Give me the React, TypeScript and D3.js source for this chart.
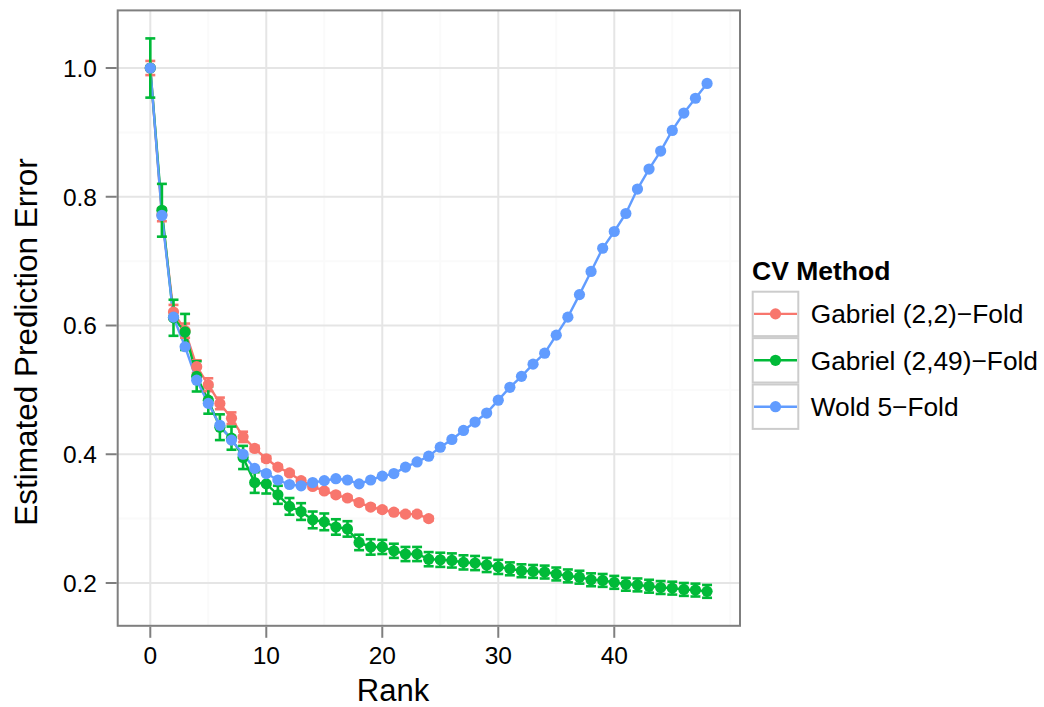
import React from 'react';
import * as d3 from 'd3';

// estimated prediction error by rank
const GABRIEL_22 = [
  1.0, 0.772, 0.621, 0.592, 0.536, 0.508, 0.479, 0.456, 0.427, 0.409,
  0.393, 0.38, 0.371, 0.359, 0.35, 0.343, 0.337, 0.332, 0.325, 0.318,
  0.314, 0.31, 0.307, 0.307, 0.3,
];
const GABRIEL_22_SE = [
  0.011, 0.01, 0.011, 0.011, 0.01, 0.01, 0.009, 0.009, 0.008, 0.004,
  0.004, 0.003, 0.003, 0.003, 0.003, 0.003, 0.003, 0.003, 0.003, 0.003,
  0.003, 0.003, 0.003, 0.003, 0.003,
];
const GABRIEL_249 = [
  1.0, 0.779, 0.612, 0.59, 0.521, 0.484, 0.442, 0.425, 0.395, 0.356,
  0.354, 0.337, 0.319, 0.311, 0.298, 0.295, 0.287, 0.284, 0.263, 0.256,
  0.256, 0.25, 0.245, 0.245, 0.237, 0.236, 0.235, 0.232, 0.231, 0.228,
  0.225, 0.222, 0.219, 0.218, 0.217, 0.214, 0.211, 0.209, 0.205, 0.204,
  0.201, 0.198, 0.197, 0.195, 0.193, 0.192, 0.19, 0.189, 0.187,
];
const GABRIEL_249_SE = [
  0.046, 0.041, 0.028, 0.028, 0.0235, 0.021, 0.02, 0.018, 0.018, 0.016,
  0.015, 0.014, 0.013, 0.013, 0.013, 0.013, 0.012, 0.012, 0.012, 0.012,
  0.011, 0.011, 0.011, 0.011, 0.011, 0.011, 0.011, 0.011, 0.011, 0.011,
  0.011, 0.01, 0.01, 0.01, 0.01, 0.01, 0.01, 0.01, 0.01, 0.01,
  0.01, 0.01, 0.01, 0.01, 0.01, 0.01, 0.01, 0.01, 0.01,
];
const WOLD_5 = [
  1.0, 0.771, 0.613, 0.567, 0.515, 0.479, 0.445, 0.422, 0.4, 0.378,
  0.37, 0.36, 0.353, 0.351, 0.356, 0.359, 0.362, 0.36, 0.354, 0.36,
  0.366, 0.37, 0.38, 0.388, 0.397, 0.411, 0.423, 0.437, 0.45, 0.464,
  0.484, 0.504, 0.521, 0.54, 0.557, 0.585, 0.613, 0.648, 0.684, 0.72,
  0.746, 0.774, 0.812, 0.843, 0.871, 0.903, 0.93, 0.953, 0.976,
];

const METHODS = ['Gabriel (2,2)\u2212Fold', 'Gabriel (2,49)\u2212Fold', 'Wold 5\u2212Fold'];
const COLORS = ['#F8766D', '#00BA38', '#619CFF'];
const X_TICKS = [0, 10, 20, 30, 40];
const X_MINOR = [5, 15, 25, 35, 45, 50];
const Y_TICKS = [0.2, 0.4, 0.6, 0.8, 1.0];
const Y_MINOR = [0.3, 0.5, 0.7, 0.9];

const W = 1044;
const H = 707;
const P = { left: 117.7, right: 740, top: 10.4, bottom: 625.8 };
const FONT = '"Liberation Sans", Arial, Helvetica, sans-serif';

type Pt = { rank: number; value: number; se?: number };

export default function App() {
  const x = d3.scaleLinear().domain([-2.81, 50.84]).range([P.left, P.right]);
  const y = d3.scaleLinear().domain([0.1335, 1.0895]).range([P.bottom, P.top]);

  const series: { name: string; color: string; pts: Pt[] }[] = [
    { name: METHODS[0], color: COLORS[0], pts: GABRIEL_22.map((v, i) => ({ rank: i, value: v, se: GABRIEL_22_SE[i] })) },
    { name: METHODS[1], color: COLORS[1], pts: GABRIEL_249.map((v, i) => ({ rank: i, value: v, se: GABRIEL_249_SE[i] })) },
    { name: METHODS[2], color: COLORS[2], pts: WOLD_5.map((v, i) => ({ rank: i, value: v })) },
  ];

  const line = d3.line<Pt>().x(d => x(d.rank)).y(d => y(d.value));
  const capHalf = x(0.43) - x(0);

  return (
    <div style={{ position: 'absolute', left: 0, top: 0 }}>
      <svg width={W} height={H} style={{ display: 'block', background: '#fff' }} fontFamily={FONT}>
        {/* panel grid */}
        <rect x={P.left} y={P.top} width={P.right - P.left} height={P.bottom - P.top} fill="#fff" />
        {X_MINOR.map(t => (
          <line key={'xm' + t} x1={x(t)} x2={x(t)} y1={P.top} y2={P.bottom} stroke="#FAFAFA" strokeWidth={2} />
        ))}
        {Y_MINOR.map(t => (
          <line key={'ym' + t} x1={P.left} x2={P.right} y1={y(t)} y2={y(t)} stroke="#FAFAFA" strokeWidth={2} />
        ))}
        {X_TICKS.map(t => (
          <line key={'xg' + t} x1={x(t)} x2={x(t)} y1={P.top} y2={P.bottom} stroke="#E5E5E5" strokeWidth={2} />
        ))}
        {Y_TICKS.map(t => (
          <line key={'yg' + t} x1={P.left} x2={P.right} y1={y(t)} y2={y(t)} stroke="#E5E5E5" strokeWidth={2} />
        ))}

        {/* lines */}
        {series.map(s => (
          <path key={'l' + s.name} d={line(s.pts) ?? ''} fill="none" stroke={s.color} strokeWidth={2.4} />
        ))}

        {/* error bars */}
        {series.map(s =>
          s.pts.filter(p => p.se !== undefined).map(p => {
            const cx = x(p.rank);
            const y1 = y(p.value + (p.se as number));
            const y2 = y(p.value - (p.se as number));
            return (
              <g key={'e' + s.name + p.rank} stroke={s.color} strokeWidth={2.6} fill="none">
                <line x1={cx} x2={cx} y1={y1} y2={y2} />
                <line x1={cx - capHalf} x2={cx + capHalf} y1={y1} y2={y1} />
                <line x1={cx - capHalf} x2={cx + capHalf} y1={y2} y2={y2} />
              </g>
            );
          })
        )}

        {/* points */}
        {series.map(s =>
          s.pts.map(p => (
            <circle key={'p' + s.name + p.rank} cx={x(p.rank)} cy={y(p.value)} r={5.6} fill={s.color} />
          ))
        )}

        {/* panel border */}
        <rect x={P.left} y={P.top} width={P.right - P.left} height={P.bottom - P.top} fill="none" stroke="#7F7F7F" strokeWidth={2} />

        {/* x axis */}
        {X_TICKS.map(t => (
          <g key={'xt' + t}>
            <line x1={x(t)} x2={x(t)} y1={P.bottom + 1} y2={P.bottom + 12} stroke="#7F7F7F" strokeWidth={2} />
            <text x={x(t)} y={663.5} textAnchor="middle" fontSize={24.5} fill="#000">{t}</text>
          </g>
        ))}
        {/* y axis */}
        {Y_TICKS.map(t => (
          <g key={'yt' + t}>
            <line x1={P.left - 12} x2={P.left - 1} y1={y(t)} y2={y(t)} stroke="#7F7F7F" strokeWidth={2} />
            <text x={97} y={y(t)} dy="0.36em" textAnchor="end" fontSize={24.5} fill="#000">{t.toFixed(1)}</text>
          </g>
        ))}

        {/* axis titles */}
        <text x={393} y={701} textAnchor="middle" fontSize={31} fill="#000">Rank</text>
        <text transform={`translate(37,342) rotate(-90)`} textAnchor="middle" fontSize={31.5} fill="#000">
          Estimated Prediction Error
        </text>

        {/* legend */}
        <text x={752} y={280} fontSize={26.5} fontWeight="bold" fill="#000">CV Method</text>
        {series.map((s, i) => {
          const top = 290.7 + i * 46.4;
          const cy = top + 23.2;
          return (
            <g key={'lg' + s.name}>
              <rect x={752.7} y={top + 1} width={45.6} height={44.4} fill="#fff" stroke="#CCCCCC" strokeWidth={2} />
              <line x1={754} x2={797} y1={cy} y2={cy} stroke={s.color} strokeWidth={2.4} />
              <circle cx={775.5} cy={cy} r={5.6} fill={s.color} />
              <text x={810.7} y={cy} dy="0.36em" fontSize={26.3} fill="#000">{s.name}</text>
            </g>
          );
        })}
      </svg>
    </div>
  );
}
